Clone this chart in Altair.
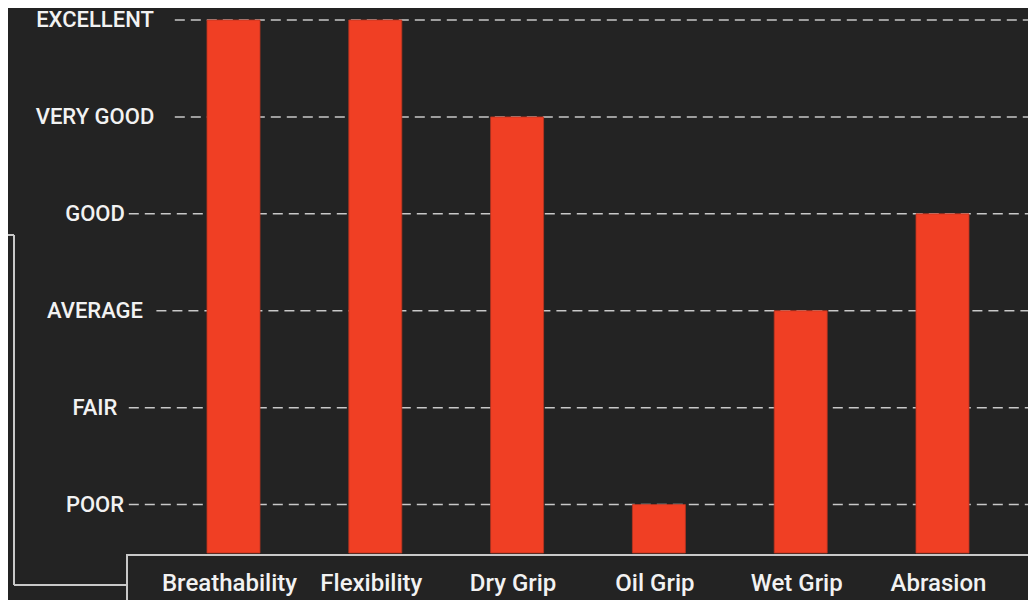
import altair as alt
import pandas as pd

# ---- data ----
categories = ["Breathability", "Flexibility", "Dry Grip", "Oil Grip", "Wet Grip", "Abrasion"]
scores = [6, 6, 5, 1, 3, 4]
levels = ["POOR", "FAIR", "AVERAGE", "GOOD", "VERY GOOD", "EXCELLENT"]
level_values = [1, 2, 3, 4, 5, 6]

BG = "#232323"
BAR = "#f03f24"
TXT = "#f2f2f2"
LINE = "#c8c8c8"
FONT = "Roboto"

W, H = 1020, 592
LABEL_CX = 87

bars_df = pd.DataFrame({"category": categories, "score": scores})
lev_df = pd.DataFrame({"level": levels, "value": level_values})
# start of dashed gridline just after each label (approx. label width + gap)
lev_df["x0"] = [LABEL_CX - 3 + 9.2 * len(s) for s in levels]

yscale = alt.Scale(domain=[0.015, 6.1238], nice=False, zero=False)
xscale = alt.Scale(domain=categories, range=[154.6, 1005.4], paddingInner=0.626, paddingOuter=0.313)

grid = alt.Chart(lev_df).mark_rule(
    color=LINE, strokeWidth=1.5, strokeDash=[10, 6]
).encode(
    x=alt.X("x0:Q", scale=None),
    x2=alt.value(W),
    y=alt.Y("value:Q", scale=yscale, axis=None),
)

ylabels = alt.Chart(lev_df).mark_text(
    font=FONT, fontSize=22, fontWeight=500, color=TXT, align="center", baseline="middle"
).encode(
    x=alt.value(LABEL_CX),
    y=alt.Y("value:Q", scale=yscale, axis=None),
    text="level:N",
)

bars = alt.Chart(bars_df).mark_bar(
    color=BAR, stroke="#b8331f", strokeWidth=0.8
).encode(
    x=alt.X("category:N", scale=xscale, axis=None, sort=categories),
    y=alt.Y("score:Q", scale=yscale, axis=None),
    y2=alt.datum(0.5),
)

xlabels = alt.Chart(bars_df).mark_text(
    font=FONT, fontSize=24, fontWeight=500, color=TXT, align="center", baseline="alphabetic", dx=-4
).encode(
    x=alt.X("category:N", scale=xscale, axis=None, sort=categories),
    y=alt.value(583),
    text="category:N",
)

frame = alt.Chart(pd.DataFrame({"a": [0]}))
box = frame.mark_rect(fill=BG, fillOpacity=0, stroke=LINE, strokeWidth=2).encode(
    x=alt.value(119), x2=alt.value(1024), y=alt.value(547), y2=alt.value(620)
)
br1 = frame.mark_rule(color=LINE, strokeWidth=2).encode(
    x=alt.value(0), x2=alt.value(6), y=alt.value(227)
)
br2 = frame.mark_rule(color=LINE, strokeWidth=2).encode(
    x=alt.value(6), y=alt.value(227), y2=alt.value(577)
)
br3 = frame.mark_rule(color=LINE, strokeWidth=2).encode(
    x=alt.value(6), x2=alt.value(119), y=alt.value(577)
)

chart = alt.layer(grid, bars, ylabels, box, br1, br2, br3, xlabels).properties(
    width=W, height=H,
    autosize=alt.AutoSizeParams(type="none"),
    padding=0,
    background=BG,
).configure_view(stroke=None, fill=BG)

chart.save("out.html", embed_options={"renderer": "svg", "actions": False})
